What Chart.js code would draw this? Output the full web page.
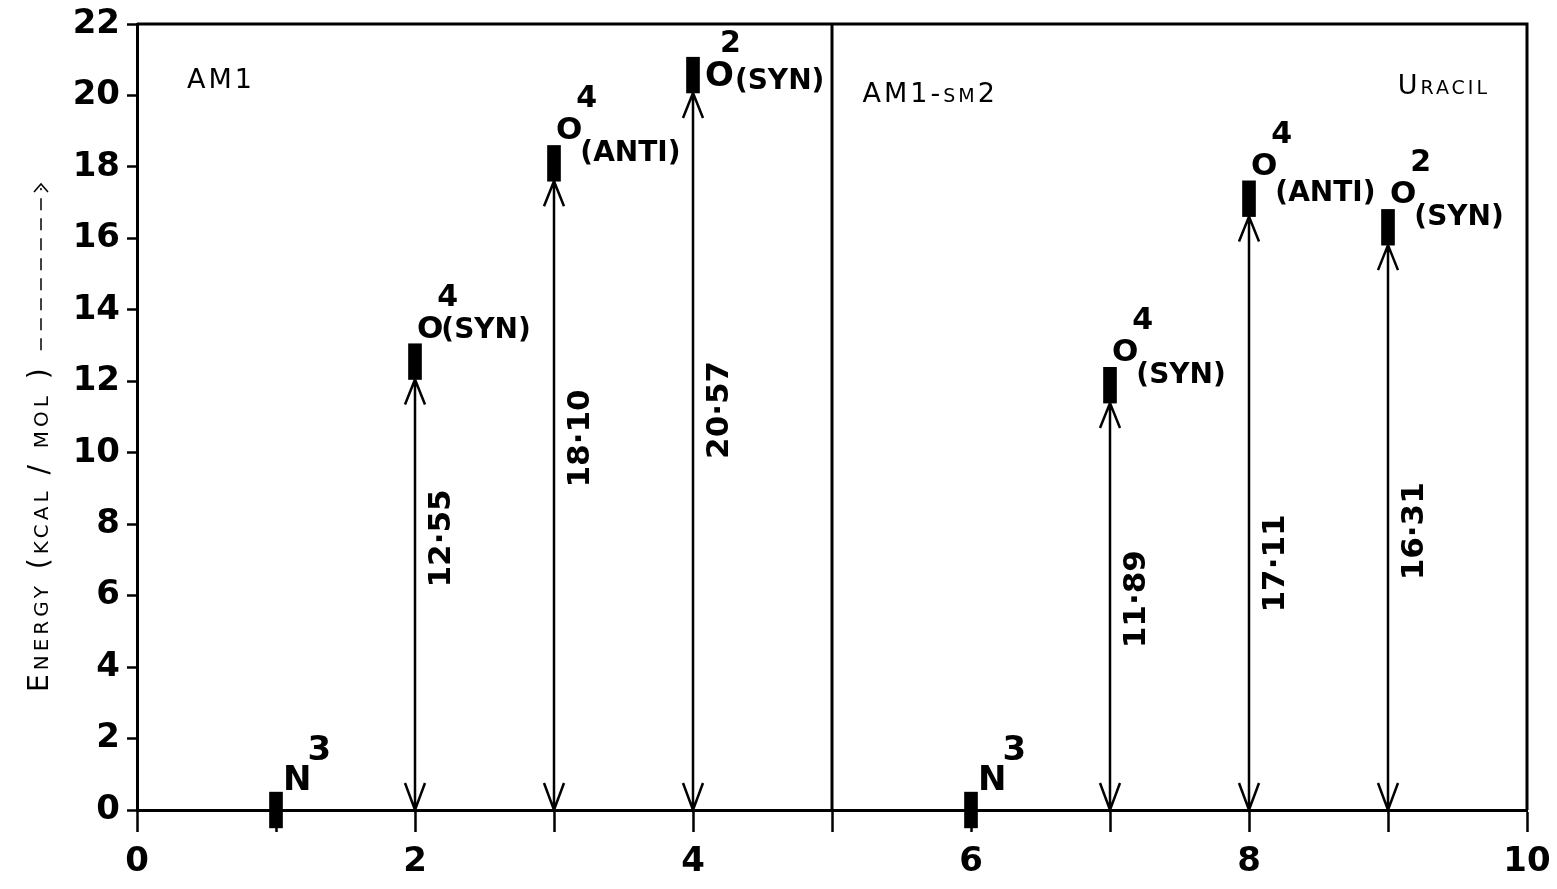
<!DOCTYPE html>
<html>
<head>
<meta charset="utf-8">
<title>Uracil protonation energies</title>
<script src="https://cdn.jsdelivr.net/npm/chart.js@4.4.1/dist/chart.umd.min.js"></script>
<style>
body{margin:0;background:#fff}
</style>
</head>
<body>
<canvas id="myChart" width="1557" height="889"></canvas>
<script>
// protonation sites: position on x axis and energy (kcal/mol)
var sitePos  = [1, 2, 3, 4, 6, 7, 8, 9];
var energy   = [0, 12.55, 18.10, 20.57, 0, 11.89, 17.11, 16.31];
var atom     = ['N', 'O', 'O', 'O', 'N', 'O', 'O', 'O'];
var atomNo   = ['3', '4', '4', '2', '3', '4', '4', '2'];
var conf     = ['', '(SYN)', '(ANTI)', '(SYN)', '', '(SYN)', '(ANTI)', '(SYN)'];
var valueTxt = ['', '12·55', '18·10', '20·57', '', '11·89', '17·11', '16·31'];
var methods  = ['AM1', 'AM1-sm2', 'Uracil'];
var yTicks   = [0, 2, 4, 6, 8, 10, 12, 14, 16, 18, 20, 22];
var xTicks   = [0, 2, 4, 6, 8, 10];

// layout only (not data)
var barHalf = 0.5;
var valueMid = [null, 7.6, 10.4, 11.2, null, 5.9, 6.9, 7.8];
var subDrop = [0, -6, 16, 0, 0, 16, 20, 16];
var methodAt = [[0.36, 20.4], [5.22, 20.0], [9.07, 20.25]];
var FONT = '"DejaVu Sans"';

var bars = {
  type: 'bar',
  data: sitePos.map(function(p, i) { return {x: p, y: [energy[i] - barHalf, energy[i] + barHalf]}; }),
  backgroundColor: '#000',
  borderWidth: 0,
  barThickness: 13,
  clip: false
};

var arrows = {
  id: 'arrows',
  beforeDatasetsDraw: function(chart) {
    var ctx = chart.ctx, xs = chart.scales.x, ys = chart.scales.y, a = chart.chartArea;
    ctx.save();
    ctx.strokeStyle = '#000';
    ctx.lineWidth = 3;
    ctx.beginPath();
    ctx.moveTo(a.left, a.top); ctx.lineTo(a.right, a.top); ctx.lineTo(a.right, a.bottom);
    var xm = xs.getPixelForValue(5);
    ctx.moveTo(xm, a.top); ctx.lineTo(xm, a.bottom);
    ctx.stroke();
    ctx.lineWidth = 2.5;
    for (var i = 0; i < sitePos.length; i++) {
      if (energy[i] <= 0) continue;
      var x = xs.getPixelForValue(sitePos[i]);
      var y0 = ys.getPixelForValue(0);
      var y1 = ys.getPixelForValue(energy[i] - barHalf);
      ctx.beginPath();
      ctx.moveTo(x, y0); ctx.lineTo(x, y1);
      ctx.moveTo(x - 10, y0 - 27); ctx.lineTo(x, y0); ctx.lineTo(x + 10, y0 - 27);
      ctx.moveTo(x - 10, y1 + 25); ctx.lineTo(x, y1); ctx.lineTo(x + 10, y1 + 25);
      ctx.stroke();
    }
    ctx.restore();
  },
  afterDatasetsDraw: function(chart) {
    var ctx = chart.ctx, xs = chart.scales.x, ys = chart.scales.y;
    ctx.save();
    ctx.fillStyle = '#000';
    ctx.textAlign = 'left';
    ctx.textBaseline = 'alphabetic';
    for (var i = 0; i < sitePos.length; i++) {
      var x = xs.getPixelForValue(sitePos[i]);
      var yt = ys.getPixelForValue(energy[i] + barHalf);
      var w;
      if (atom[i] === 'N') {
        ctx.font = 'bold 34px ' + FONT;
        ctx.fillText('N', x + 7, yt - 2);
        w = ctx.measureText('N').width;
        ctx.fillText(atomNo[i], x + 7 + w - 4, yt - 32);
      } else if (i === 3) {
        ctx.font = 'bold 34px ' + FONT;
        var ox = x + 12;
        ctx.fillText('O', ox, yt + 29);
        w = ctx.measureText('O').width;
        ctx.font = 'bold 28px ' + FONT;
        ctx.fillText(conf[i], ox + w + 1, yt + 32);
        ctx.font = 'bold 30px ' + FONT;
        ctx.fillText(atomNo[i], ox + 15, yt - 5);
      } else {
        ctx.font = 'bold 31px ' + FONT;
        var ox2 = x + 2;
        ctx.fillText('O', ox2, yt - 6);
        w = ctx.measureText('O').width;
        ctx.font = 'bold 28px ' + FONT;
        ctx.fillText(conf[i], ox2 + w - 2, yt + subDrop[i]);
        ctx.font = 'bold 30px ' + FONT;
        ctx.fillText(atomNo[i], ox2 + w - 6, yt - 38);
      }
      if (valueTxt[i]) {
        ctx.save();
        ctx.translate(x + 27, ys.getPixelForValue(valueMid[i]));
        ctx.rotate(-Math.PI / 2);
        ctx.textAlign = 'center';
        ctx.textBaseline = 'middle';
        ctx.font = 'bold 31px ' + FONT;
        ctx.fillText(valueTxt[i], 0, 0);
        ctx.restore();
      }
    }
    // method names
    ctx.textBaseline = 'middle';
    ctx.letterSpacing = '3px';
    for (var k = 0; k < methods.length; k++) {
      ctx.font = 'small-caps 27px ' + FONT;
      ctx.fillText(methods[k], xs.getPixelForValue(methodAt[k][0]), ys.getPixelForValue(methodAt[k][1]));
    }
    // y axis title with dashed arrow
    ctx.save();
    ctx.translate(41, 450);
    ctx.rotate(-Math.PI / 2);
    ctx.font = 'small-caps 28px ' + FONT;
    ctx.letterSpacing = '4px';
    ctx.textAlign = 'left';
    var t = 'Energy (kcal / mol )';
    ctx.fillText(t, -242, 0);
    var tw = ctx.measureText(t).width;
    ctx.strokeStyle = '#000';
    ctx.lineWidth = 1.5;
    ctx.setLineDash([12, 8]);
    ctx.beginPath();
    ctx.moveTo(-242 + tw + 14, 0); ctx.lineTo(262, 0);
    ctx.stroke();
    ctx.setLineDash([]);
    ctx.beginPath();
    ctx.moveTo(258, -7); ctx.lineTo(266, 0); ctx.lineTo(258, 7);
    ctx.stroke();
    ctx.restore();
    ctx.restore();
  }
};

var tickFont = {family: FONT, weight: 'bold', size: 34};

new Chart(document.getElementById('myChart'), {
  type: 'scatter',
  data: {datasets: [bars]},
  options: {
    responsive: false,
    animation: false,
    layout: {padding: {top: 24, right: 30, left: 0, bottom: 0}},
    plugins: {legend: {display: false}, tooltip: {enabled: false}},
    scales: {
      x: {
        type: 'linear', min: 0, max: 10, offset: false,
        afterBuildTicks: function(s) { s.ticks = [0,1,2,3,4,5,6,7,8,9,10].map(function(v) { return {value: v}; }); },
        ticks: {autoSkip: false, maxRotation: 0, padding: 10, color: '#000', font: tickFont,
          callback: function(v) { return xTicks.indexOf(v) >= 0 ? String(v) : ''; }},
        grid: {drawOnChartArea: false, offset: false, tickLength: 22, tickWidth: 2.5, color: '#000'},
        border: {color: '#000', width: 3},
        afterFit: function(s) { s.height = 79; s.paddingLeft = 0; s.paddingRight = 0; }
      },
      y: {
        min: 0, max: 22,
        afterBuildTicks: function(s) { s.ticks = yTicks.map(function(v) { return {value: v}; }); },
        ticks: {padding: 7, color: '#000', font: tickFont},
        grid: {drawOnChartArea: false, tickLength: 10, tickWidth: 2.5, color: '#000'},
        border: {color: '#000', width: 3},
        afterFit: function(s) { s.width = 137; s.paddingTop = 0; s.paddingBottom = 0; }
      }
    }
  },
  plugins: [arrows]
});
</script>
</body>
</html>
